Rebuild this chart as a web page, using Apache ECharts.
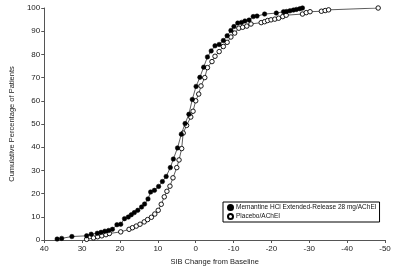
<!DOCTYPE html>
<html>
<head>
<meta charset="utf-8">
<script src="https://cdn.jsdelivr.net/npm/echarts@6/dist/echarts.min.js"></script>
<style>
  html, body { margin: 0; padding: 0; background: #fff; }
  #chart { width: 400px; height: 271px; }
</style>
</head>
<body>
<div id="chart"></div>
<script>
// SIB change (x) and cumulative percent (y)
var sibMemantine = [36.6, 35.4, 32.7, 28.8, 27.6, 26, 25, 24, 23, 22, 20.8, 19.8, 18.8, 17.8, 17, 16.2, 15.3, 14.3, 13.5, 12.6,
    11.9, 10.9, 9.8, 8.8, 7.8, 6.7, 5.9, 4.8, 3.8, 2.8, 1.8, 0.9, -0.1, -1.1, -2.1, -3.1, -4.1, -5.1, -6.2, -7.3,
    -8.3, -9.3, -10.1, -11.1, -12.1, -13, -14.1, -15.2, -16.2, -18.2, -21.3, -23.2, -24, -24.9, -25.8, -26.6, -27.5, -28.2];
var pctMemantine = [0.4, 0.7, 1.5, 1.8, 2.5, 2.9, 3.3, 3.8, 4.1, 4.6, 6.6, 6.8, 9.2, 9.9, 10.9, 11.8, 12.8, 14.2, 15.5, 17.7,
    20.7, 21.4, 23.1, 25.2, 27.4, 31.2, 34.9, 39.7, 45.6, 50.2, 54.2, 60.6, 66.2, 70.1, 74.5, 78.9, 81.5, 83.7, 84.3, 86,
    88, 90.3, 92, 93.5, 93.8, 94.4, 94.8, 96.3, 96.5, 97.4, 97.8, 98.4, 98.5, 98.8, 99.1, 99.4, 99.7, 100];

var sibPlacebo = [28.8, 27, 25.9, 24.8, 23.7, 22.8, 19.8, 17.6, 16.7, 15.7, 14.7, 13.6, 12.7, 11.7, 10.8, 9.9, 9.1, 8.3, 7.6, 6.8,
    6, 5, 4.4, 3.7, 3.3, 2.4, 1.3, 0.7, 0, -0.8, -1.4, -2.4, -3.1, -4.3, -5.1, -6.2, -7.3, -8.3, -9.3, -10.3,
    -11.4, -12.4, -13.5, -14.6, -17.3, -18.2, -19, -19.9, -20.9, -21.9, -23, -23.9, -28.2, -29.2, -30.2, -33.2, -34.2, -35.1, -48.2];
var pctPlacebo = [0.3, 0.9, 1.4, 1.8, 2.3, 2.8, 3.5, 4.6, 5.3, 6, 6.8, 7.8, 8.8, 9.8, 11.2, 12.8, 15.4, 18.6, 21, 23.2,
    26.8, 31.2, 34.5, 39.4, 46.1, 49.4, 53, 55.5, 60, 62.9, 66.4, 70, 74.3, 76.9, 79.2, 81.2, 83.4, 85.2, 87.5, 89.2,
    91.3, 91.7, 92.2, 93.1, 93.7, 94.1, 94.6, 94.9, 95.2, 95.6, 96.3, 96.9, 97.4, 98, 98.4, 98.6, 98.9, 99.2, 100];

var seriesNames = ['Memantine HCl Extended-Release 28 mg/AChEI', 'Placebo/AChEI'];

function pairs(xs, ys) {
    var out = [];
    for (var i = 0; i < xs.length; i++) {
        out.push([xs[i], ys[i]]);
    }
    return out;
}

var font = "'Liberation Sans', Arial, sans-serif";
var myChart = echarts.init(document.getElementById('chart'));

var option = {
    animation: false,
    grid: { left: 35, right: 15, top: 8, bottom: 29 },
    legend: {
        orient: 'vertical',
        left: 223,
        top: 202,
        padding: [2, 3, 2, 4],
        itemGap: 2,
        itemWidth: 5,
        itemHeight: 5,
        borderColor: '#000',
        borderWidth: 1,
        borderRadius: 0,
        textStyle: { fontFamily: font, fontSize: 6.5, color: '#111', padding: [0, 0, 0, -2] },
        data: [
            { name: seriesNames[0], icon: 'circle' },
            { name: seriesNames[1], icon: 'circle' }
        ]
    },
    xAxis: {
        type: 'value',
        inverse: true,
        min: -50,
        max: 40,
        interval: 10,
        name: 'SIB Change from Baseline',
        nameLocation: 'middle',
        nameGap: 18,
        nameTextStyle: { fontFamily: font, fontSize: 7.5, color: '#222' },
        axisLine: { onZero: false, lineStyle: { color: '#555', width: 1 } },
        axisTick: { show: true, length: 3, lineStyle: { color: '#555' } },
        axisLabel: { fontFamily: font, fontSize: 8, color: '#222', margin: 5 },
        splitLine: { show: false }
    },
    yAxis: {
        type: 'value',
        min: 0,
        max: 100,
        interval: 10,
        name: 'Cumulative Percentage of Patients',
        nameLocation: 'middle',
        nameGap: 24,
        nameTextStyle: { fontFamily: font, fontSize: 7.5, color: '#222' },
        axisLine: { show: true, onZero: false, lineStyle: { color: '#555', width: 1 } },
        axisTick: { show: true, length: 3, lineStyle: { color: '#555' } },
        axisLabel: { fontFamily: font, fontSize: 8, color: '#222', margin: 4 },
        splitLine: { show: false }
    },
    series: [
        {
            name: seriesNames[1],
            type: 'line',
            data: pairs(sibPlacebo, pctPlacebo),
            symbol: 'circle',
            symbolSize: 4.5,
            lineStyle: { color: '#333', width: 0.8 },
            itemStyle: { color: '#fff', borderColor: '#000', borderWidth: 0.9 },
            z: 2
        },
        {
            name: seriesNames[0],
            type: 'line',
            data: pairs(sibMemantine, pctMemantine),
            symbol: 'circle',
            symbolSize: 4.5,
            lineStyle: { color: '#333', width: 0.8 },
            itemStyle: { color: '#000', borderColor: '#000', borderWidth: 0.5 },
            z: 3
        }
    ]
};

myChart.setOption(option);
</script>
</body>
</html>
